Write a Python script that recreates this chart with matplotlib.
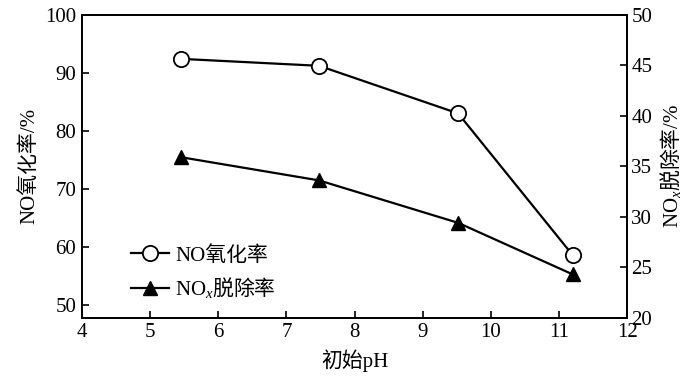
import matplotlib
matplotlib.use('Agg')
import matplotlib.pyplot as plt

ph = [5.45, 7.48, 9.52, 11.2]
no_oxid = [92.4, 91.2, 83.0, 58.6]
nox_removal = [35.9, 33.6, 29.4, 24.3]

plt.rcParams['font.family'] = ['Liberation Serif', 'Noto Sans CJK SC']
plt.rcParams['mathtext.fontset'] = 'custom'
plt.rcParams['mathtext.rm'] = 'Liberation Serif'
plt.rcParams['mathtext.it'] = 'Liberation Serif:italic'
# CJK inside mathtext goes through \mathcal
plt.rcParams['mathtext.cal'] = 'Noto Sans CJK SC'
plt.rcParams['font.size'] = 15

fig = plt.figure(figsize=(7, 3.82), dpi=100)
ax = fig.add_axes([0.117, 0.168, 0.779, 0.7935])
ax2 = ax.twinx()

l1, = ax.plot(ph, no_oxid, c='black', lw=1.6, marker='o', ms=11,
              mfc='white', mec='black', mew=1.3, label='NO氧化率')
l2, = ax2.plot(ph, nox_removal, c='black', lw=1.6, marker='^', ms=10,
               mfc='black', mec='black', label=r'NO$_x\mathcal{脱除率}$')

ax.set_xlim(4, 12)
ax.set_ylim(47.8, 100)
ax2.set_ylim(20, 50)
ax.set_xticks(range(4, 13))
ax.set_yticks(range(50, 101, 10))
ax2.set_yticks(range(20, 51, 5))

ax.tick_params(direction='in', length=5, width=1.2, pad=4, labelsize=15)
ax2.tick_params(direction='in', length=5, width=1.2, pad=3, labelsize=15)
for a in (ax, ax2):
    for s in a.spines.values():
        s.set_linewidth(1.3)

ax.set_xlabel('初始pH', fontsize=15, labelpad=5)
ax.set_ylabel('NO氧化率/%', fontsize=15, labelpad=4)
ax2.set_ylabel(r'NO$_x\mathcal{脱除率}$/%', fontsize=15, labelpad=4)

ax.legend(handles=[l1, l2], loc='upper left', bbox_to_anchor=(0.075, 0.265),
          frameon=False, handlelength=1.8, handletextpad=0.3,
          labelspacing=0.45, borderaxespad=0, fontsize=15)

fig.savefig('out.png', dpi=100)
